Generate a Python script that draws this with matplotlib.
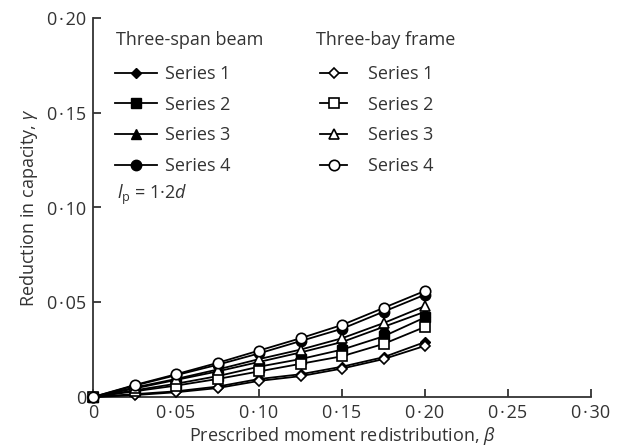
import matplotlib
matplotlib.use("Agg")
import matplotlib.pyplot as plt

plt.rcParams['font.family'] = ['Open Sans', 'DejaVu Sans']
plt.rcParams['mathtext.fontset'] = 'custom'
plt.rcParams['mathtext.rm'] = 'Open Sans'
plt.rcParams['mathtext.it'] = 'Open Sans:italic'

beta = [0, 0.025, 0.05, 0.075, 0.10, 0.125, 0.15, 0.175, 0.20]

beam_s1 = [0, 0.0015, 0.003, 0.0055, 0.0095, 0.012, 0.016, 0.021, 0.029]
beam_s2 = [0, 0.0035, 0.007, 0.011, 0.016, 0.020, 0.025, 0.032, 0.042]
beam_s3 = [0, 0.0045, 0.009, 0.0135, 0.0185, 0.0235, 0.029, 0.037, 0.045]
beam_s4 = [0, 0.006, 0.0115, 0.017, 0.023, 0.0295, 0.036, 0.045, 0.054]

frame_s1 = [0, 0.001, 0.0025, 0.0047, 0.0085, 0.011, 0.015, 0.020, 0.027]
frame_s2 = [0, 0.003, 0.006, 0.0095, 0.0135, 0.0175, 0.0215, 0.028, 0.037]
frame_s3 = [0, 0.005, 0.0095, 0.0145, 0.020, 0.025, 0.031, 0.039, 0.048]
frame_s4 = [0, 0.0063, 0.012, 0.018, 0.0245, 0.031, 0.038, 0.047, 0.056]

series_labels = ["Series 1", "Series 2", "Series 3", "Series 4"]
x_ticks = [0, 0.05, 0.10, 0.15, 0.20, 0.25, 0.30]
x_ticklabels = ["0", "0\u200a·\u200a05", "0\u200a·\u200a10", "0\u200a·\u200a15",
                "0\u200a·\u200a20", "0\u200a·\u200a25", "0\u200a·\u200a30"]
y_ticks = [0, 0.05, 0.10, 0.15, 0.20]
y_ticklabels = ["0", "0\u200a·\u200a05", "0\u200a·\u200a10", "0\u200a·\u200a15", "0\u200a·\u200a20"]

markers = ['D', 's', '^', 'o']
msizes = [5.5, 6.5, 7, 7.5]
txt = '#333333'
fs = 13

fig = plt.figure(figsize=(6.28, 4.48), dpi=100)
ax = fig.add_axes([93/628, 1-397/448, 498/628, 379/448])

beam = [beam_s1, beam_s2, beam_s3, beam_s4]
frame = [frame_s1, frame_s2, frame_s3, frame_s4]

beam_handles = []
frame_handles = []
for i in range(4):
    h, = ax.plot(beta, beam[i], color='black', lw=1.3, marker=markers[i],
                 ms=msizes[i], mfc='black', mec='black', clip_on=False, zorder=3)
    beam_handles.append(h)
for i in range(4):
    h, = ax.plot(beta, frame[i], color='black', lw=1.3, marker=markers[i],
                 ms=msizes[i], mfc='white', mec='black', mew=1.2, clip_on=False, zorder=4)
    frame_handles.append(h)

ax.set_xlim(0, 0.30)
ax.set_ylim(0, 0.20)
ax.set_xticks(x_ticks)
ax.set_xticklabels(x_ticklabels)
ax.set_yticks(y_ticks)
ax.set_yticklabels(y_ticklabels)
for s in ['top', 'right']:
    ax.spines[s].set_visible(False)
for s in ['left', 'bottom']:
    ax.spines[s].set_color(txt)
    ax.spines[s].set_linewidth(1.3)
ax.tick_params(direction='in', length=6, width=1.3, color=txt, labelcolor=txt,
               labelsize=fs, pad=5)
ax.tick_params(axis='y', pad=5)

ax.set_xlabel(r"Prescribed moment redistribution, $\beta$", fontsize=fs, color=txt, labelpad=2)
ax.set_ylabel(r"Reduction in capacity, $\gamma$", fontsize=fs, color=txt, labelpad=5)

common = dict(loc='upper left', frameon=False, fontsize=fs,
              labelspacing=0.7, borderaxespad=0, borderpad=0,
              bbox_transform=fig.transFigure)

leg1 = ax.legend(beam_handles, series_labels,
                 bbox_to_anchor=(115/628, 1-65/448), handlelength=2.33,
                 handletextpad=0.45, **common)
for t in leg1.get_texts():
    t.set_color(txt)
ax.add_artist(leg1)

leg2 = ax.legend(frame_handles, series_labels,
                 bbox_to_anchor=(320/628, 1-65/448), handlelength=1.5,
                 handletextpad=1.15, **common)
for t in leg2.get_texts():
    t.set_color(txt)

fig.text(116/628, 1-40/448, "Three-span beam", fontsize=fs, color=txt, va='center', ha='left')
fig.text(316/628, 1-40/448, "Three-bay frame", fontsize=fs, color=txt, va='center', ha='left')
fig.text(117/628, 1-195/448, r"$\mathit{l}_\mathrm{p}$ = 1·2$\mathit{d}$",
         fontsize=fs, color=txt, va='center', ha='left')

fig.savefig("out.png", dpi=100)
